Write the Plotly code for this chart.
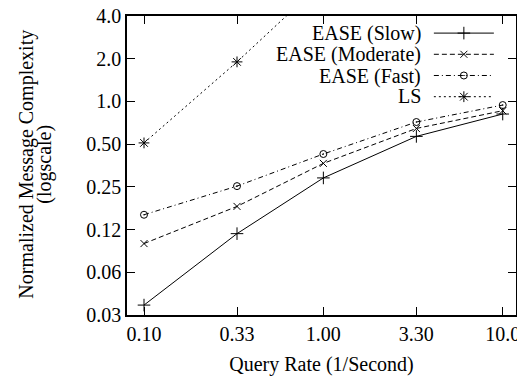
import plotly.graph_objects as go
import math

query_rate = [0.10, 0.33, 1.00, 3.30, 10.0]
x_tick_labels = ["0.10", "0.33", "1.00", "3.30", "10.0"]

ease_slow = [0.0367, 0.117, 0.289, 0.567, 0.815]
ease_moderate = [0.0996, 0.182, 0.366, 0.645, 0.86]
ease_fast = [0.159, 0.253, 0.426, 0.716, 0.943]
ls = [0.51, 1.9, 7.0, 25.0, 80.0]

y_tick_vals = [0.03125, 0.0625, 0.125, 0.25, 0.5, 1, 2, 4]
y_tick_labels = ["0.03", "0.06", "0.12", "0.25", "0.50", "1.0", "2.0", "4.0"]

series_names = ["EASE (Slow)", "EASE (Moderate)", "EASE (Fast)", "LS"]

FONT = "'Liberation Serif', 'Times New Roman', Times, serif"

fig = go.Figure()
styles = [
    (ease_slow, "solid", "cross-thin", 9),
    (ease_moderate, "5px,3px", "x-thin", 7),
    (ease_fast, "5px,3px,1px,3px", "circle-open-dot", 7),
    (ls, "2px,3px", "asterisk-open", 9),
]
for name, (vals, dash, sym, sz) in zip(series_names, styles):
    fig.add_trace(go.Scatter(
        x=query_rate, y=vals, mode="lines+markers", name=" ",
        line=dict(color="black", width=1, dash=dash),
        marker=dict(symbol=sym, size=sz, color="black",
                    line=dict(color="black", width=1)),
        cliponaxis=True,
    ))

# legend labels (text left of the samples, as in the original)
leg_y = [0.9412, 0.8710, 0.7985, 0.7317]
for name, yy in zip(series_names, leg_y):
    fig.add_annotation(x=0.760, y=yy, xref="paper", yref="paper",
                       text=name, showarrow=False, xanchor="right",
                       yanchor="middle",
                       font=dict(family=FONT, size=20, color="black"))

# y axis title in two lines
fig.add_annotation(x=-0.257, y=0.503, xref="paper", yref="paper",
                   text="Normalized Message Complexity", showarrow=False,
                   textangle=-90, xanchor="center", yanchor="middle",
                   font=dict(family=FONT, size=20, color="black"))
fig.add_annotation(x=-0.213, y=0.503, xref="paper", yref="paper",
                   text="(logscale)", showarrow=False,
                   textangle=-90, xanchor="center", yanchor="middle",
                   font=dict(family=FONT, size=20, color="black"))

fig.update_layout(
    width=517, height=379,
    margin=dict(l=127, r=1, t=16, b=64),
    paper_bgcolor="white", plot_bgcolor="white",
    font=dict(family=FONT, size=20, color="black"),
    showlegend=True,
    legend=dict(x=0.776, y=0.995, xanchor="left", yanchor="top",
                bgcolor="rgba(0,0,0,0)", font=dict(family=FONT, size=14),
                itemwidth=60, tracegroupgap=0),
)
fig.update_xaxes(
    type="log", range=[-1.0948, 1.074],
    tickvals=query_rate, ticktext=x_tick_labels,
    ticks="inside", ticklen=8, tickwidth=1, tickcolor="black",
    showline=True, linecolor="black", linewidth=1.5, mirror="allticks",
    showgrid=False, zeroline=False, automargin=False,
    ticklabeloverflow="allow",
    tickfont=dict(family=FONT, size=20),
    title=dict(text="Query Rate (1/Second)", font=dict(family=FONT, size=20),
               standoff=13),
)
fig.update_yaxes(
    type="log", range=[math.log10(0.03125), math.log10(4)],
    tickvals=y_tick_vals, ticktext=y_tick_labels,
    ticks="inside", ticklen=8, tickwidth=1, tickcolor="black",
    showline=True, linecolor="black", linewidth=1.5, mirror="allticks",
    showgrid=False, zeroline=False, automargin=False,
    ticklabeloverflow="allow",
    tickfont=dict(family=FONT, size=20),
)

fig.write_html("out.html",
               config={"displayModeBar": False},
               post_script="document.body.style.margin='0';")
